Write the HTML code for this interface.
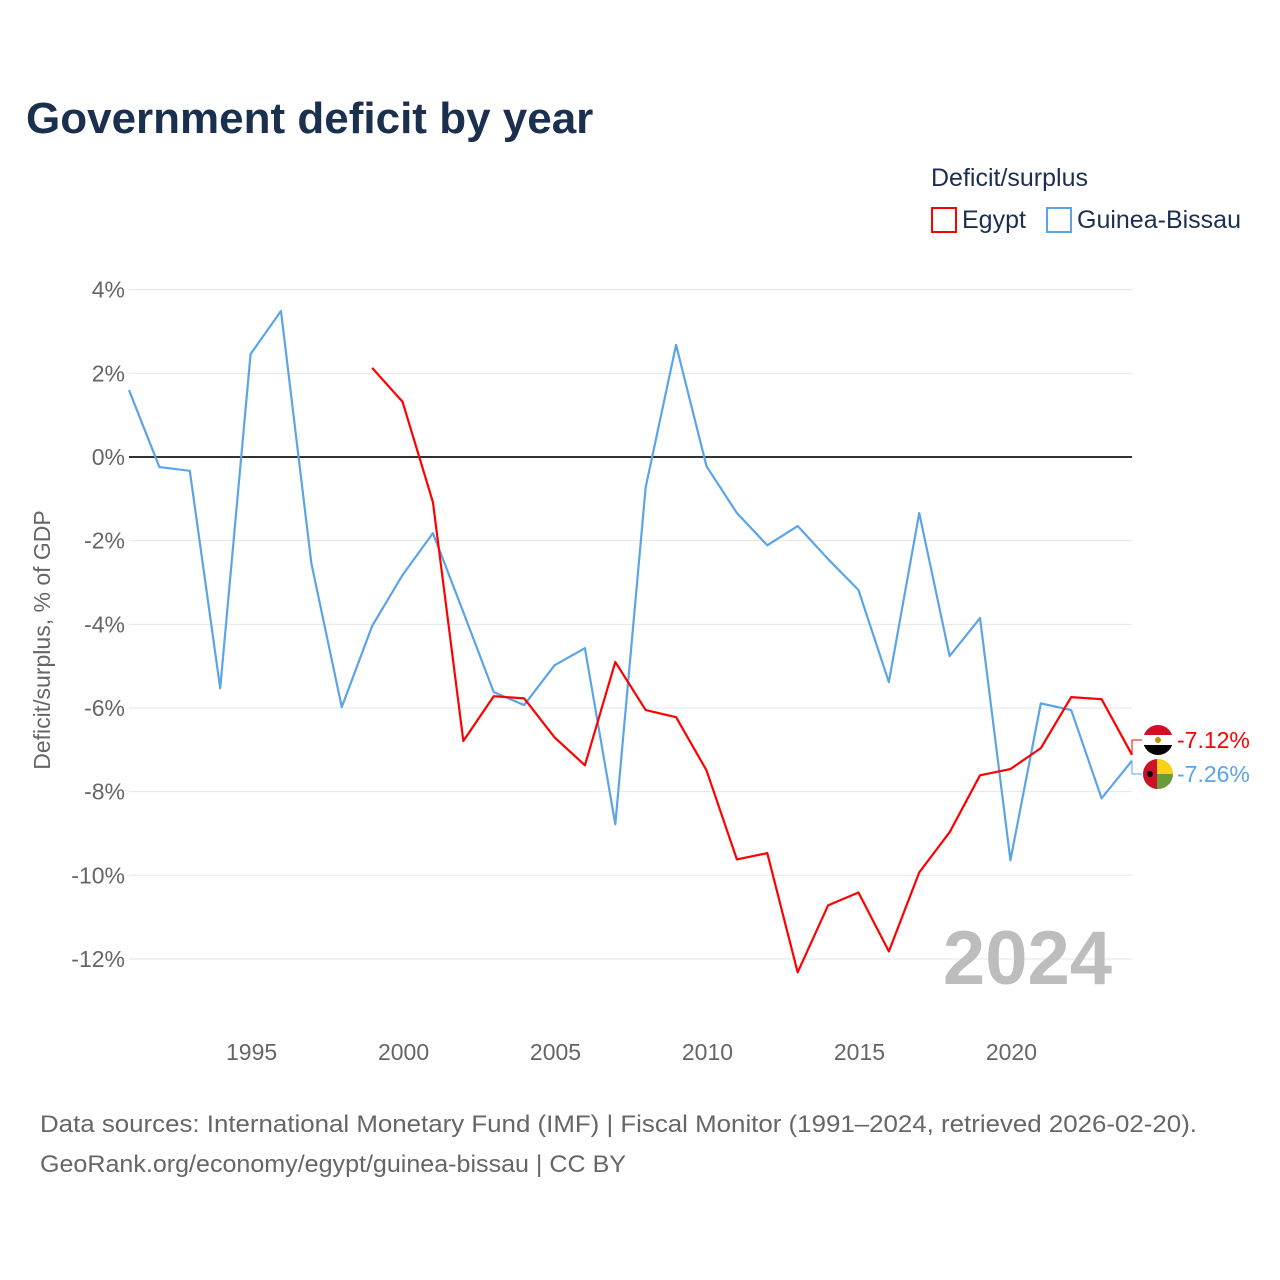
<!DOCTYPE html>
<html><head><meta charset="utf-8"><style>
body{margin:0;background:#fff;font-family:"Liberation Sans",sans-serif}
svg{display:block}
</style></head><body>
<svg id="chart" width="1280" height="1280" viewBox="0 0 1280 1280">
<text x="26" y="133" font-size="44" font-weight="bold" fill="#1b2f4e">Government deficit by year</text>
<text x="931" y="186" font-size="25" fill="#1b2f4e">Deficit/surplus</text>
<g><rect x="932" y="208" width="24" height="24" fill="none" stroke="#ff0000" stroke-width="2"/><text x="962" y="228" font-size="25" fill="#1b2f4e">Egypt</text></g>
<g><rect x="1047" y="208" width="24" height="24" fill="none" stroke="#5ba4e8" stroke-width="2"/><text x="1077" y="228" font-size="25" fill="#1b2f4e">Guinea-Bissau</text></g>
<g id="grid"></g><g id="yt"></g><g id="xt"></g>
<text transform="translate(50,640) rotate(-90)" text-anchor="middle" font-size="23" fill="#666">Deficit/surplus, % of GDP</text>
<text x="1112" y="984" text-anchor="end" font-size="76" font-weight="bold" fill="#bdbdbd">2024</text>
<g id="series"></g>
<text x="40" y="1132" font-size="24" fill="#666" textLength="1157" lengthAdjust="spacingAndGlyphs">Data sources: International Monetary Fund (IMF) | Fiscal Monitor (1991–2024, retrieved 2026-02-20).</text>
<text x="40" y="1172" font-size="24" fill="#666" textLength="586" lengthAdjust="spacingAndGlyphs">GeoRank.org/economy/egypt/guinea-bissau | CC BY</text>
</svg>
<script>
const yTicks=[4,2,0,-2,-4,-6,-8,-10,-12];
const xTicks=[1995,2000,2005,2010,2015,2020];
const gbYears=[1991,1992,1993,1994,1995,1996,1997,1998,1999,2000,2001,2002,2003,2004,2005,2006,2007,2008,2009,2010,2011,2012,2013,2014,2015,2016,2017,2018,2019,2020,2021,2022,2023,2024];
const gbValues=[1.6,-0.24,-0.33,-5.53,2.46,3.49,-2.54,-5.98,-4.04,-2.82,-1.82,-3.71,-5.62,-5.93,-4.98,-4.57,-8.78,-0.72,2.68,-0.22,-1.34,-2.11,-1.65,-2.44,-3.18,-5.38,-1.34,-4.76,-3.85,-9.64,-5.89,-6.05,-8.16,-7.26];
const egYears=[1999,2000,2001,2002,2003,2004,2005,2006,2007,2008,2009,2010,2011,2012,2013,2014,2015,2016,2017,2018,2019,2020,2021,2022,2023,2024];
const egValues=[2.13,1.32,-1.08,-6.79,-5.72,-5.77,-6.7,-7.37,-4.9,-6.05,-6.22,-7.49,-9.62,-9.47,-12.32,-10.72,-10.41,-11.82,-9.93,-8.97,-7.61,-7.46,-6.96,-5.74,-5.79,-7.12];
const NS='http://www.w3.org/2000/svg';
const X=y=>129+(y-1991)*(1132-129)/33;
const Y=v=>457-v*41.83;
function mk(t,a,p){const e=document.createElementNS(NS,t);for(const k in a)e.setAttribute(k,a[k]);p.appendChild(e);return e;}
const grid=document.getElementById('grid'),yt=document.getElementById('yt'),xt=document.getElementById('xt'),ser=document.getElementById('series');
yTicks.forEach(v=>{
 const l=mk('line',{x1:129,x2:1132,y1:Y(v),y2:Y(v),stroke:v===0?'#333':'#e6e6e6','stroke-width':v===0?2:1},grid);
 
 
 const t=mk('text',{x:125,y:Y(v)+8,'text-anchor':'end','font-size':23,fill:'#666'},yt);t.textContent=v+'%';
 
 
});
xTicks.forEach(y=>{
 const t=mk('text',{x:X(y)+1,y:1060,'text-anchor':'middle','font-size':23,fill:'#666'},xt);t.textContent=y;
 
 
});
function line(ys,vs,c,name){
 const p=mk('polyline',{points:ys.map((y,i)=>X(y)+','+Y(vs[i])).join(' '),fill:'none',stroke:c,'stroke-width':2.2,'stroke-linejoin':'round'},ser);
 
 
}
line(gbYears,gbValues,'#5ba4e8','guinea-bissau-line');
line(egYears,egValues,'#ff0000','egypt-line');
const egEnd=egValues[egValues.length-1],gbEnd=gbValues[gbValues.length-1];
const ey=740,gy=774;
mk('polyline',{points:`${X(2024)},${Y(egEnd)} ${X(2024)},${ey} 1142,${ey}`,fill:'none',stroke:'#ff0000','stroke-width':1},ser);
mk('polyline',{points:`${X(2024)},${Y(gbEnd)} ${X(2024)},${gy} 1142,${gy}`,fill:'none',stroke:'#5ba4e8','stroke-width':1},ser);
const fe=mk('g',{},ser);
mk('clipPath',{id:'ce'},fe);mk('circle',{cx:1158,cy:ey,r:15},document.getElementById('ce'));
mk('rect',{x:1143,y:ey-15,width:30,height:10,fill:'#ce1126','clip-path':'url(#ce)'},fe);
mk('rect',{x:1143,y:ey-5,width:30,height:10,fill:'#fff','clip-path':'url(#ce)'},fe);
mk('rect',{x:1143,y:ey+5,width:30,height:10,fill:'#000','clip-path':'url(#ce)'},fe);
mk('circle',{cx:1158,cy:ey,r:3,fill:'#c09300'},fe);
const fg=mk('g',{},ser);
mk('clipPath',{id:'cg'},fg);mk('circle',{cx:1158,cy:gy,r:15},document.getElementById('cg'));
mk('rect',{x:1143,y:gy-15,width:30,height:15,fill:'#fcd116','clip-path':'url(#cg)'},fg);
mk('rect',{x:1143,y:gy,width:30,height:15,fill:'#6a9a3a','clip-path':'url(#cg)'},fg);
mk('rect',{x:1143,y:gy-15,width:14,height:30,fill:'#ce1126','clip-path':'url(#cg)'},fg);
mk('circle',{cx:1150,cy:gy,r:3,fill:'#000'},fg);
const te=mk('text',{x:1177,y:ey+8,'font-size':23,fill:'#ff0000'},ser);te.textContent=egEnd.toFixed(2)+'%';


const tg=mk('text',{x:1177,y:gy+8,'font-size':23,fill:'#5ba4e8'},ser);tg.textContent=gbEnd.toFixed(2)+'%';


</script>
</body></html>
